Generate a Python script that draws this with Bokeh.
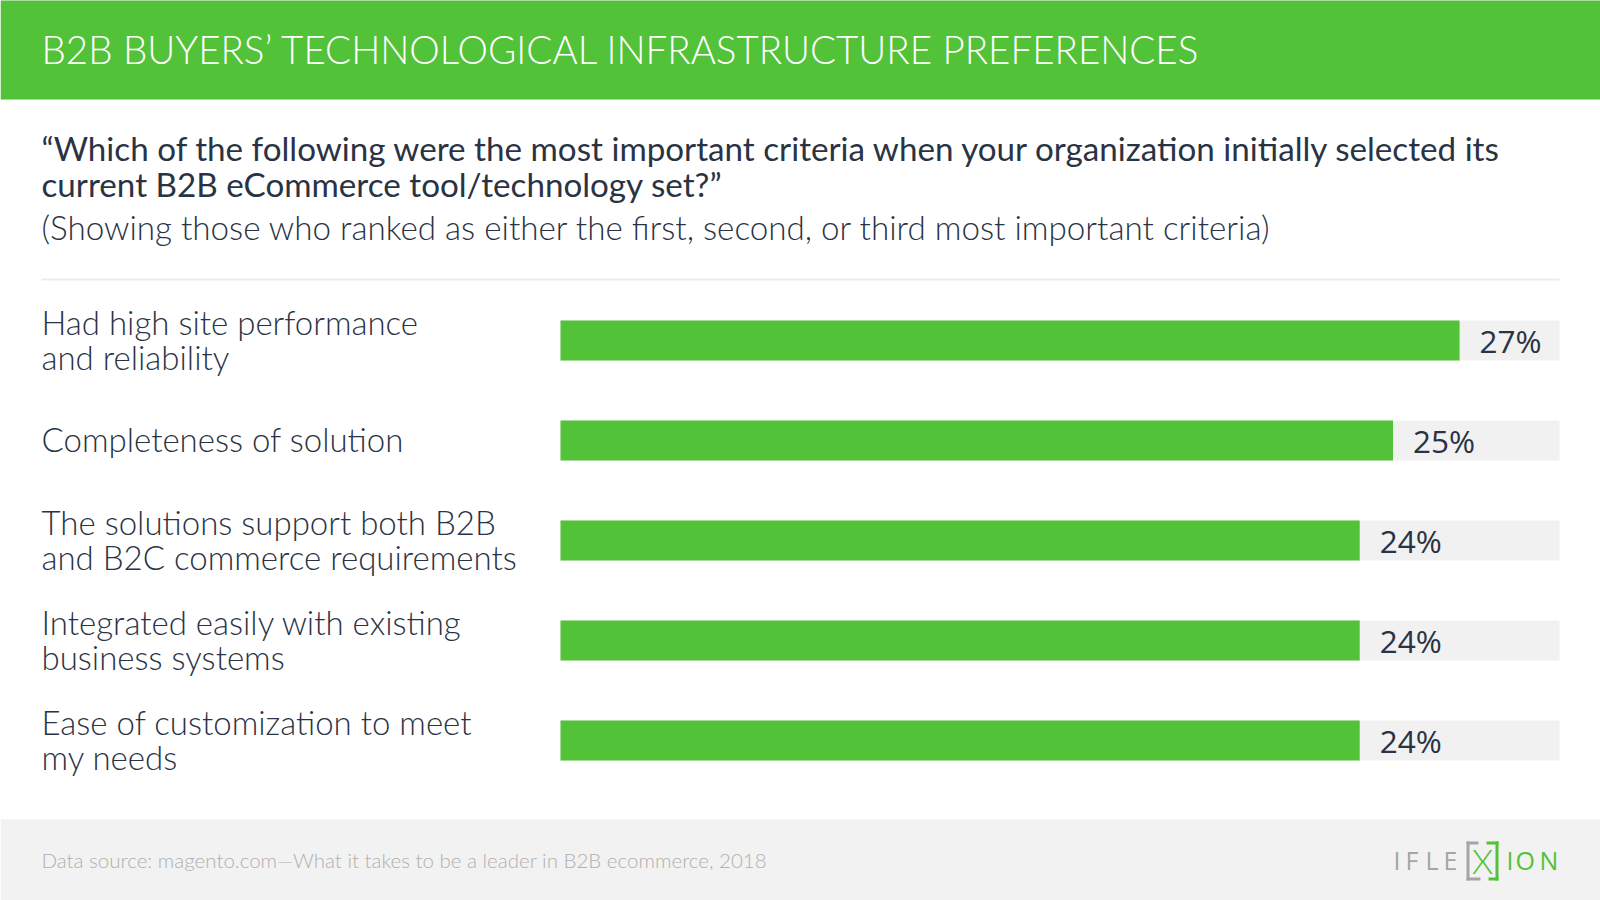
from bokeh.plotting import figure
from bokeh.models import Range1d, BoxAnnotation, Label, ColumnDataSource
from bokeh.embed import file_html
from bokeh.resources import INLINE
from bokeh.core.properties import value

# ---------------- data ----------------
categories = [
    "Had high site performance\nand reliability",
    "Completeness of solution",
    "The solutions support both B2B\nand B2C commerce requirements",
    "Integrated easily with existing\nbusiness systems",
    "Ease of customization to meet\nmy needs",
]
values = [27, 25, 24, 24, 24]
value_labels = ["27%", "25%", "24%", "24%", "24%"]
track_max = 30

title = "B2B BUYERS\u2019 TECHNOLOGICAL INFRASTRUCTURE PREFERENCES"
question = [
    "\u201cWhich of the following were the most important criteria when your organization initially selected its",
    "current B2B eCommerce tool/technology set?\u201d",
]
subtitle = "(Showing those who ranked as either the first, second, or third most important criteria)"
source = "Data source: magento.com\u2014What it takes to be a leader in B2B ecommerce, 2018"

# ---------------- style ----------------
GREEN = "#52c238"
TRACK = "#f1f1f1"
DARK = "#2a3344"
FOOT_BG = "#f2f2f2"
FOOT_TXT = "#b0b0b0"
LOGO_GRAY = "#a5a5a5"
UB = "Lato"
UB_LIGHT = "Lato Light, Lato"
NUM = "Open Sans"
K_LATO, K_OS = 0.42, 0.37     # baseline correction (fraction of font size)

W, H = 1600, 900
X0 = 560                     # pixel where 0 % sits
PX_PER_PCT = 999 / track_max
ROW0, ROW_STEP, BAR_H = 340, 100, 40
LEFT_TXT = 41


def bl(y, size, k=K_LATO):
    return y - k * size


p = figure(width=W, height=H, output_backend="svg", toolbar_location=None,
           x_range=Range1d(-X0 / PX_PER_PCT, (W - X0) / PX_PER_PCT),
           y_range=Range1d(H, 0),
           min_border=0, min_border_left=0, min_border_right=0,
           min_border_top=0, min_border_bottom=0)
p.axis.visible = False
p.grid.visible = False
p.outline_line_color = None
p.background_fill_color = "white"
p.border_fill_color = "white"

# header band
p.add_layout(BoxAnnotation(top=-20, bottom=99, fill_color=GREEN, fill_alpha=1, line_alpha=0))
# footer band
p.add_layout(BoxAnnotation(top=819, bottom=920, fill_color=FOOT_BG, fill_alpha=1, line_alpha=0))
# separator
p.add_layout(BoxAnnotation(left=LEFT_TXT, right=1559, left_units="screen", right_units="screen",
                           top=278, bottom=280, fill_color="#ececec", fill_alpha=1, line_alpha=0))

# titles
p.add_layout(Label(x=LEFT_TXT, x_units="screen", y=bl(65, 38.5), text=title, text_color="white",
                   text_font=UB_LIGHT, text_font_size="38.5px", text_baseline="alphabetic"))
for i, line in enumerate(question):
    p.add_layout(Label(x=LEFT_TXT, x_units="screen", y=bl(161 + 36 * i, 33.2), text=line, text_color=DARK,
                       text_font=UB, text_font_size="33.2px", text_baseline="alphabetic"))
p.add_layout(Label(x=LEFT_TXT, x_units="screen", y=bl(240, 33.2), text=subtitle, text_color=DARK,
                   text_font=UB_LIGHT, text_font_size="33.2px", text_baseline="alphabetic"))

# bars
centers = [ROW0 + ROW_STEP * i for i in range(len(values))]
src = ColumnDataSource(dict(y=centers, v=values, lab=value_labels, full=[track_max] * len(values)))
p.hbar(y="y", left=0, right="full", height=BAR_H, source=src, fill_color=TRACK, line_color=None)
p.hbar(y="y", left=0, right="v", height=BAR_H, source=src, fill_color=GREEN, line_color=None)
p.text(x="v", y="y", text="lab", source=src, x_offset=20, y_offset=12 - K_OS * 31.5,
       text_baseline="alphabetic", text_font=value(NUM), text_font_size="31.5px", text_color=DARK)

# category labels
lx, ly, lt = [], [], []
LINE_H = 35
CAT_FS = 33
for c, cy in zip(categories, centers):
    lines = c.split("\n")
    n = len(lines)
    for j, ln in enumerate(lines):
        lx.append(0)
        ly.append(bl(cy + 12.5 + (j - (n - 1) / 2) * LINE_H, CAT_FS))
        lt.append(ln)
p.text(x=lx, y=ly, text=lt, x_offset=LEFT_TXT - X0, text_baseline="alphabetic",
       text_font=value(UB_LIGHT), text_font_size=f"{CAT_FS}px", text_color=DARK)

# footer source
p.add_layout(Label(x=LEFT_TXT, x_units="screen", y=bl(868, 20.5), text=source, text_color=FOOT_TXT,
                   text_font=UB_LIGHT, text_font_size="20.5px", text_baseline="alphabetic"))

# logo
LOGO_FS = 25
for ch, x, col in [("I", 1393, LOGO_GRAY), ("F", 1405, LOGO_GRAY), ("L", 1425, LOGO_GRAY), ("E", 1443, LOGO_GRAY),
                   ("I", 1506, GREEN), ("O", 1515, GREEN), ("N", 1539, GREEN)]:
    p.add_layout(Label(x=x, x_units="screen", y=bl(869, LOGO_FS, K_OS), text=ch, text_color=col,
                       text_font=NUM, text_font_size=f"{LOGO_FS}px", text_baseline="alphabetic"))
for l, r, t, b, col in [(1466, 1469, 841, 880, LOGO_GRAY), (1466, 1478, 841, 844, LOGO_GRAY),
                        (1466, 1480, 877, 880, LOGO_GRAY), (1495, 1498, 841, 880, GREEN),
                        (1486, 1498, 841, 844, GREEN), (1488, 1498, 877, 880, GREEN)]:
    p.add_layout(BoxAnnotation(left=l, right=r, left_units="screen", right_units="screen",
                               top=t, bottom=b, fill_color=col, fill_alpha=1, line_alpha=0))
p.add_layout(Label(x=1482, x_units="screen", y=bl(874, 34), text="X", text_color=GREEN, text_align="center",
                   text_font=UB_LIGHT, text_font_size="34px", text_baseline="alphabetic"))

open("out.html", "w").write(file_html(p, INLINE))
